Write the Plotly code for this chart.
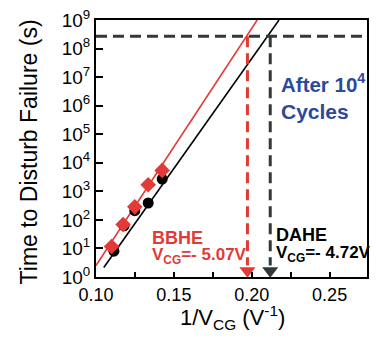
import plotly.graph_objects as go

# Data
bbhe_x = [0.1100, 0.1174, 0.1249, 0.1335, 0.1425]
bbhe_y = [11.7, 69, 286, 1700, 5400]
dahe_x = [0.1115, 0.1180, 0.1249, 0.1335, 0.1425]
dahe_y = [8, 62, 210, 390, 2700]

# Extrapolated fit lines (endpoints)
bbhe_fit_x = [0.100, 0.2035]
bbhe_fit_y = [10**0.40, 1e9]
dahe_fit_x = [0.1050, 0.2175]
dahe_fit_y = [10**0.33, 1e9]

ten_years = 10**8.43
vcg_bbhe = 5.07
vcg_dahe = 4.72
x_range = [0.10, 0.274]

xtick_vals = [0.10, 0.15, 0.20, 0.25]
xtick_text = ["0.10", "0.15", "0.20", "0.25"]
xminor_vals = [0.125, 0.175, 0.225]
ytick_exp = list(range(10))

RED = "#e23a36"
DARK = "#33383c"
BLUE = "#2c4a9c"
FONT = "Liberation Sans, Arial, sans-serif"

fig = go.Figure()

# fit lines
fig.add_trace(go.Scatter(x=bbhe_fit_x, y=bbhe_fit_y, mode="lines",
                         line=dict(color=RED, width=1.6), showlegend=False))
fig.add_trace(go.Scatter(x=dahe_fit_x, y=dahe_fit_y, mode="lines",
                         line=dict(color="black", width=1.6), showlegend=False))

# horizontal dashed (10 years)
fig.add_trace(go.Scatter(x=x_range, y=[ten_years, ten_years], mode="lines",
                         line=dict(color=DARK, width=3, dash="11px,6px"), showlegend=False))
# vertical dashed lines
fig.add_trace(go.Scatter(x=[1/vcg_bbhe, 1/vcg_bbhe], y=[ten_years, 10**0.4], mode="lines",
                         line=dict(color=RED, width=3, dash="11px,6px"), showlegend=False))
fig.add_trace(go.Scatter(x=[1/vcg_dahe, 1/vcg_dahe], y=[ten_years, 10**0.4], mode="lines",
                         line=dict(color=DARK, width=3, dash="11px,6px"), showlegend=False))
# arrow heads
fig.add_trace(go.Scatter(x=[1/vcg_bbhe], y=[10**0.22], mode="markers", cliponaxis=False,
                         marker=dict(symbol="triangle-down", size=14, color=RED), showlegend=False))
fig.add_trace(go.Scatter(x=[1/vcg_dahe], y=[10**0.22], mode="markers", cliponaxis=False,
                         marker=dict(symbol="triangle-down", size=14, color=DARK), showlegend=False))

# data points
fig.add_trace(go.Scatter(x=dahe_x, y=dahe_y, mode="markers",
                         marker=dict(symbol="circle", size=11, color="black"), showlegend=False))
fig.add_trace(go.Scatter(x=bbhe_x, y=bbhe_y, mode="markers",
                         marker=dict(symbol="diamond", size=12, color=RED), showlegend=False))

fig.update_layout(
    width=377, height=338,
    margin=dict(l=96, r=10, t=7, b=61),
    paper_bgcolor="white", plot_bgcolor="white",
    font=dict(family=FONT, size=18, color="black"),
    xaxis=dict(range=x_range, tickvals=xtick_vals, ticktext=xtick_text,
               ticks="inside", ticklen=5, tickwidth=1.5, tickcolor="black",
               minor=dict(tickvals=xminor_vals, ticks="inside", ticklen=5,
                          tickwidth=1.5, tickcolor="black"),
               showline=True, linecolor="black", linewidth=2, mirror=True,
               showgrid=False, zeroline=False, ticklabeloverflow="allow",
               tickfont=dict(size=18)),
    yaxis=dict(type="log", range=[0, 9],
               tickvals=[10**e for e in ytick_exp],
               ticktext=["10<sup>%d</sup>" % e for e in ytick_exp],
               ticks="inside", ticklen=7, tickwidth=1.5, tickcolor="black",
               showline=True, linecolor="black", linewidth=2, mirror=True,
               showgrid=False, zeroline=False, ticklabeloverflow="allow",
               tickfont=dict(size=19)),
)

# axis titles
fig.add_annotation(x=-0.247, y=0.485, xref="paper", yref="paper", showarrow=False,
                   text="Time to Disturb Failure (s)", textangle=-90,
                   xanchor="center", yanchor="middle",
                   font=dict(family=FONT, size=23, color="black"))
fig.add_annotation(x=0.5055, y=-0.158, xref="paper", yref="paper", showarrow=False,
                   text="1/V<sub>CG</sub> (V<sup>-1</sup>)",
                   xanchor="center", yanchor="middle",
                   font=dict(family=FONT, size=22, color="black"))

def ann(x, y, text, color, size=19):
    fig.add_annotation(x=x, y=y, xref="x", yref="y", text=text, showarrow=False,
                       xanchor="left", yanchor="middle",
                       font=dict(family=FONT, size=size, color=color))

ann(0.2175, 6.78, "<b>After 10<sup>4</sup></b>", BLUE, 20.5)
ann(0.2175, 5.80, "<b>Cycles</b>", BLUE, 21)
ann(0.1347, 1.37, "<b>BBHE</b>", RED, 18)
ann(0.1347, 0.74, "<b>V<sub>CG</sub>=- 5.07V</b>", RED, 17)
ann(0.2144, 1.47, "<b>DAHE</b>", "black", 18)
ann(0.2144, 0.80, "<b>V<sub>CG</sub>=- 4.72V</b>", "black", 17)

fig.write_html("out.html")
